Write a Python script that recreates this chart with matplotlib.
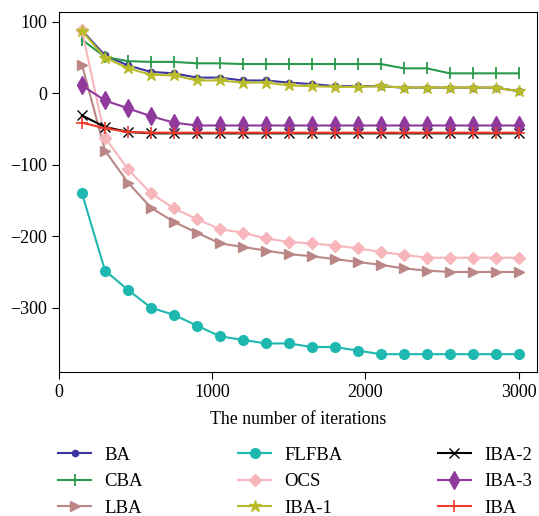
import numpy as np
import matplotlib.pyplot as plt

plt.rcParams['font.family'] = ['Liberation Serif', 'DejaVu Serif']

iters = [150, 300, 450, 600, 750, 900, 1050, 1200, 1350, 1500,
         1650, 1800, 1950, 2100, 2250, 2400, 2550, 2700, 2850, 3000]

ba = [88, 53, 39, 30, 28, 22, 22, 18, 18, 15, 13, 10, 10, 10, 8, 8, 8, 8, 8, 3]
cba = [75, 51, 45, 44, 44, 42, 42, 41, 41, 41, 41, 41, 41, 41, 35, 35, 28, 28, 28, 28]
lba = [40, -80, -125, -160, -180, -195, -210, -215, -220, -225,
       -228, -232, -236, -240, -245, -248, -250, -250, -250, -250]
flfba = [-140, -248, -275, -300, -310, -325, -340, -345, -350, -350,
         -355, -355, -360, -365, -365, -365, -365, -365, -365, -365]
ocs = [88, -62, -106, -140, -161, -176, -190, -195, -203, -208,
       -210, -213, -217, -222, -226, -230, -230, -230, -230, -230]
iba1 = [87, 50, 35, 26, 25, 18, 18, 15, 15, 11, 10, 9, 9, 10, 8, 8, 8, 8, 8, 3]
iba2 = [-31, -47, -54, -56, -56, -56, -56, -56, -56, -56,
        -56, -56, -56, -56, -56, -56, -56, -56, -56, -56]
iba3 = [11, -10, -21, -32, -41, -45, -45, -45, -45, -45,
        -45, -45, -45, -45, -45, -45, -45, -45, -45, -45]
iba = [-41, -49, -54, -55, -55, -55, -55, -55, -55, -55,
       -55, -55, -55, -55, -55, -55, -55, -55, -55, -55]

fig = plt.figure(figsize=(5.39, 5.16), dpi=100)
ax = fig.add_axes([0.1095, 0.279, 0.887, 0.698])

ax.plot(iters, ba, color='#3b359f', marker='o', markersize=4.5, lw=1.5, label='BA')
ax.plot(iters, cba, color='#2a9a4a', marker='|', markersize=9, mew=1.3, lw=1.5, label='CBA')
ax.plot(iters, lba, color='#bb8686', marker='>', markersize=6.5, lw=1.5, label='LBA')
ax.plot(iters, flfba, color='#1fb8b0', marker='o', markersize=7, lw=1.5, label='FLFBA')
ax.plot(iters, ocs, color='#f7b5bc', marker='D', markersize=6.5, lw=1.5, label='OCS')
ax.plot(iters, iba1, color='#b9bb2a', marker='*', markersize=9, lw=1.5, label='IBA-1')
ax.plot(iters, iba2, color='black', marker='x', markersize=6.5, lw=1.5, label='IBA-2')
ax.plot(iters, iba3, color='#8f3a9c', marker='d', markersize=9, lw=1.5, label='IBA-3')
ax.plot(iters, iba, color='#f03a2a', marker='+', markersize=8, mew=1.2, lw=1.5, label='IBA')

ax.set_xlim(0, 3120)
ax.set_ylim(-390, 114)
ax.set_xticks([0, 1000, 2000, 3000])
ax.set_yticks([100, 0, -100, -200, -300])
ax.tick_params(labelsize=13, length=5)
ax.set_xlabel('The number of iterations', fontsize=12.8, labelpad=7)

fig.legend(loc='upper left', bbox_to_anchor=(0.094, 0.149), ncol=3, frameon=False,
           fontsize=13.5, handlelength=1.75, handletextpad=0.7, columnspacing=5.1,
           labelspacing=0.5, borderaxespad=0)

fig.savefig('out.png', dpi=100)
